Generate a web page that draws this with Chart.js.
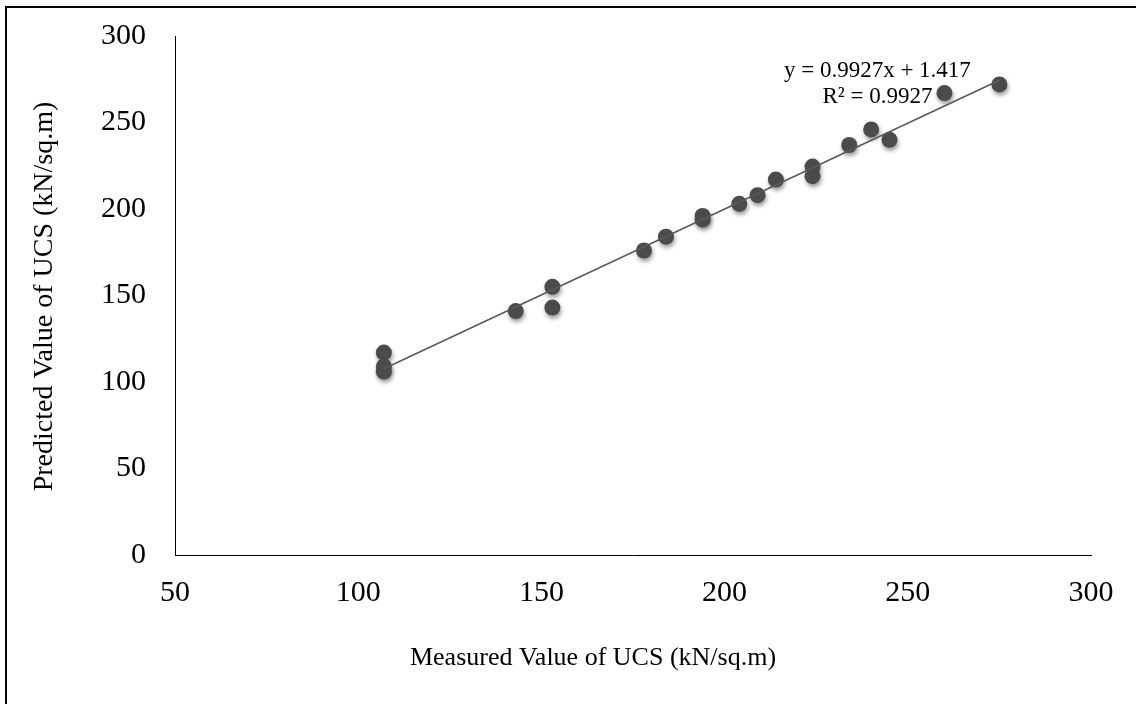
<!DOCTYPE html>
<html>
<head>
<meta charset="utf-8">
<script src="https://cdn.jsdelivr.net/npm/chart.js@4.4.1/dist/chart.umd.min.js"></script>
<style>
  html, body { margin: 0; padding: 0; background: #fff; }
  canvas { display: block; }
</style>
</head>
<body>
<canvas id="c" width="1136" height="704"></canvas>
<script>
// ---- data ----
const measured = [107, 107, 107, 143, 153, 153, 178, 184, 194, 194, 204, 209, 214, 224, 224, 234, 240, 245, 260, 275];
const predicted = [117, 109, 106, 141, 155, 143, 176, 184, 196, 194, 203, 208, 217, 224.5, 219, 237, 246, 240, 267, 272];
const trendSlope = 0.9927;
const trendIntercept = 1.417;
const trendLabel = ['y = 0.9927x + 1.417', 'R\u00B2 = 0.9927'];
const xTitle = 'Measured Value of UCS (kN/sq.m)';
const yTitle = 'Predicted Value of UCS (kN/sq.m)';
const xTicks = [50, 100, 150, 200, 250, 300];
const yTicks = [0, 50, 100, 150, 200, 250, 300];

const points = measured.map((x, i) => ({ x: x, y: predicted[i] }));
const xMin = Math.min(...measured), xMax = Math.max(...measured);
const trend = [xMin, xMax].map(x => ({ x: x, y: trendSlope * x + trendIntercept }));

const SERIF = '"Liberation Serif", "Times New Roman", serif';

const decor = {
  id: 'decor',
  beforeDatasetDraw(chart, args) {
    if (args.index === 0) {
      const ctx = chart.ctx;
      ctx.save();
      ctx.shadowColor = 'rgba(0,0,0,0.4)';
      ctx.shadowBlur = 4;
      ctx.shadowOffsetX = 1;
      ctx.shadowOffsetY = 3;
    }
  },
  afterDatasetDraw(chart, args) {
    if (args.index === 0) chart.ctx.restore();
  },
  afterDraw(chart) {
    const ctx = chart.ctx;
    const xs = chart.scales.x, ys = chart.scales.y;
    ctx.save();
    // frame
    ctx.fillStyle = '#000';
    ctx.fillRect(5, 6, 2, 704);
    ctx.fillRect(5, 6, 1131, 2);
    // axis titles
    ctx.font = '26px ' + SERIF;
    ctx.textAlign = 'center';
    ctx.textBaseline = 'alphabetic';
    ctx.fillText(xTitle, 593, 665);
    ctx.save();
    ctx.font = '28px ' + SERIF;
    ctx.translate(52, (chart.chartArea.top + chart.chartArea.bottom) / 2 + 1);
    ctx.rotate(-Math.PI / 2);
    ctx.fillText(yTitle, 0, 0);
    ctx.restore();
    // trendline label
    ctx.font = '23px ' + SERIF;
    ctx.textAlign = 'center';
    const lx = xs.getPixelForValue(xMax) - 122;
    const ly = ys.getPixelForValue(trendSlope * xMax + trendIntercept) - 3;
    ctx.fillText(trendLabel[0], lx, ly);
    ctx.fillText(trendLabel[1], lx, ly + 26);
    ctx.restore();
  }
};

new Chart(document.getElementById('c'), {
  type: 'scatter',
  data: {
    datasets: [
      {
        label: 'Data',
        data: points,
        order: 1,
        pointRadius: 8,
        pointHoverRadius: 8,
        backgroundColor: '#4b4b4b',
        borderColor: '#4b4b4b',
        borderWidth: 0
      },
      {
        label: 'Trend',
        type: 'line',
        data: trend,
        order: 0,
        borderColor: '#5a5a5a',
        borderWidth: 1.6,
        pointRadius: 0,
        fill: false,
        tension: 0
      }
    ]
  },
  options: {
    responsive: false,
    animation: false,
    events: [],
    layout: { padding: { top: 36, right: 45, bottom: 0, left: 0 } },
    plugins: { legend: { display: false }, tooltip: { enabled: false } },
    scales: {
      x: {
        type: 'linear',
        min: 50, max: 300,
        afterBuildTicks: (s) => { s.ticks = xTicks.map(v => ({ value: v })); },
        afterFit: (s) => { s.height = 149; s.paddingLeft = 0; s.paddingRight = 0; },
        grid: { display: false, drawTicks: false },
        border: { display: true, color: '#000', width: 1 },
        ticks: { color: '#000', padding: 20, font: { family: SERIF, size: 30 } }
      },
      y: {
        type: 'linear',
        min: 0, max: 300,
        afterBuildTicks: (s) => { s.ticks = yTicks.map(v => ({ value: v })); },
        afterFit: (s) => { s.width = 175; s.paddingTop = 0; s.paddingBottom = 0; },
        grid: { display: false, drawTicks: false },
        border: { display: true, color: '#000', width: 1 },
        ticks: { color: '#000', padding: 29, font: { family: SERIF, size: 30 } }
      }
    }
  },
  plugins: [decor]
});
</script>
</body>
</html>
